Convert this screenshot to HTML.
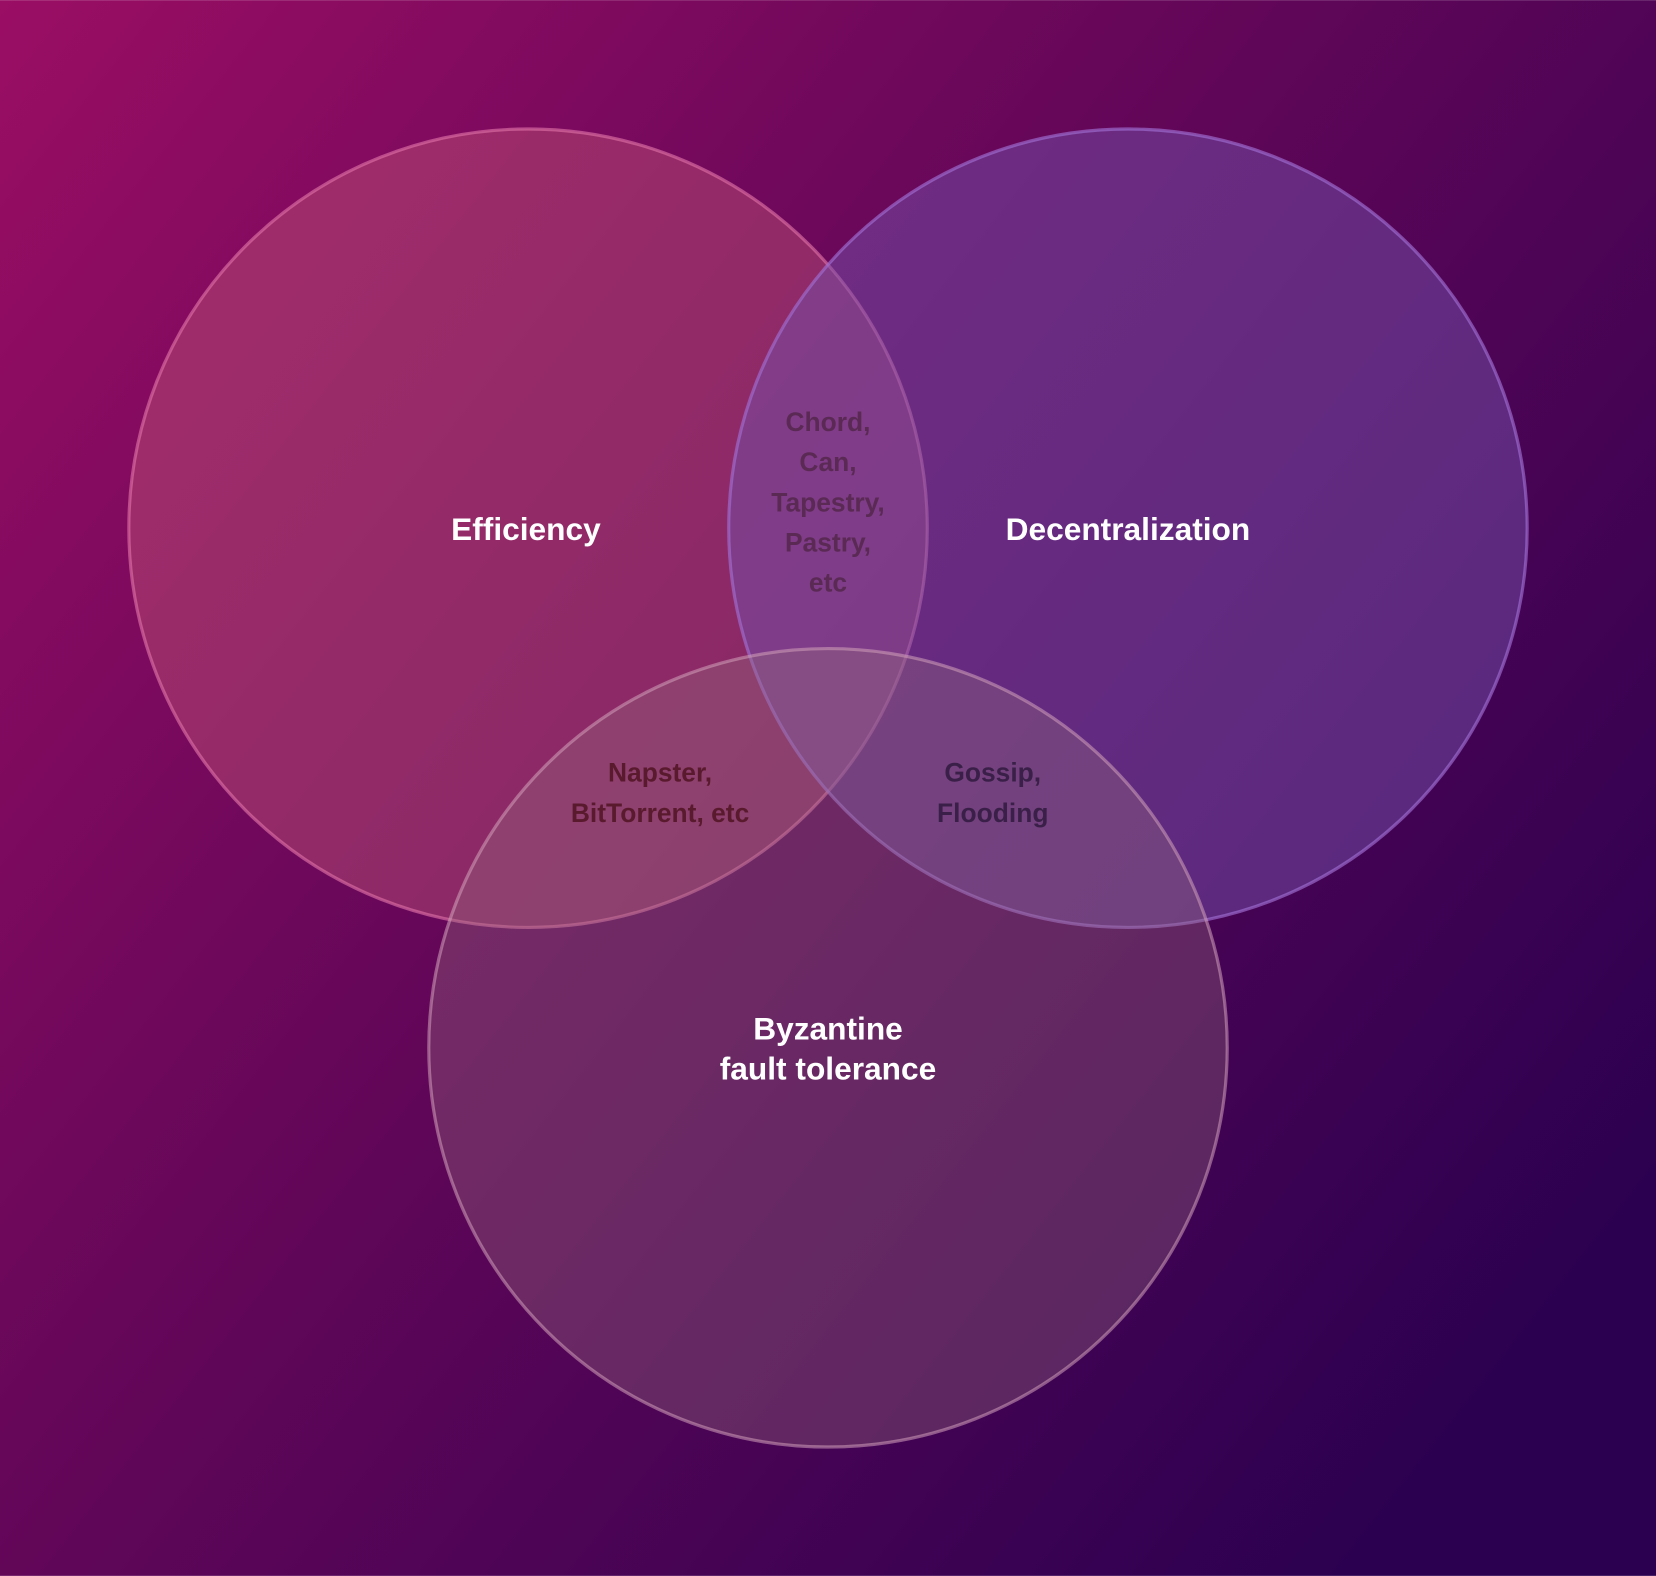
<!DOCTYPE html>
<html><head><style>
html,body{margin:0;padding:0;width:1656px;height:1576px;overflow:hidden}
svg{display:block}
text{font-family:"Liberation Sans",sans-serif;font-weight:bold;text-anchor:middle}
</style></head><body>
<svg width="1656" height="1576" viewBox="0 0 1568 1492" xmlns="http://www.w3.org/2000/svg">
<defs>
<linearGradient id="bg" x1="0" y1="0" x2="1" y2="0.75">
<stop offset="0" stop-color="#9a0e64"/>
<stop offset="0.5" stop-color="#600658"/>
<stop offset="1" stop-color="#2c0050"/>
</linearGradient>
</defs>
<rect width="1568" height="1492" fill="url(#bg)"/>
<circle cx="500" cy="500" r="378" fill="rgb(190,85,120)" fill-opacity="0.45" stroke="rgb(220,110,165)" stroke-opacity="0.65" stroke-width="3"/>
<circle cx="1068" cy="500" r="378" fill="rgb(115,80,170)" fill-opacity="0.5" stroke="rgb(160,110,210)" stroke-opacity="0.65" stroke-width="3"/>
<circle cx="784" cy="992" r="378" fill="rgb(150,110,125)" fill-opacity="0.35" stroke="rgb(210,160,185)" stroke-opacity="0.55" stroke-width="3"/>
<g fill="#fff" font-size="30">
<text x="498" y="511">Efficiency</text>
<text x="1068" y="511">Decentralization</text>
<text x="784" y="984">Byzantine</text>
<text x="784" y="1022">fault tolerance</text>
</g>
<g fill="#5a2a55" font-size="25">
<text x="784" y="408">Chord,</text>
<text x="784" y="446">Can,</text>
<text x="784" y="484">Tapestry,</text>
<text x="784" y="522">Pastry,</text>
<text x="784" y="560">etc</text>
</g>
<g fill="#5a1a2e" font-size="25">
<text x="625" y="740">Napster,</text>
<text x="625" y="778">BitTorrent, etc</text>
</g>
<g fill="#3a2048" font-size="25">
<text x="940" y="740">Gossip,</text>
<text x="940" y="778">Flooding</text>
</g>
</svg>
</body></html>
